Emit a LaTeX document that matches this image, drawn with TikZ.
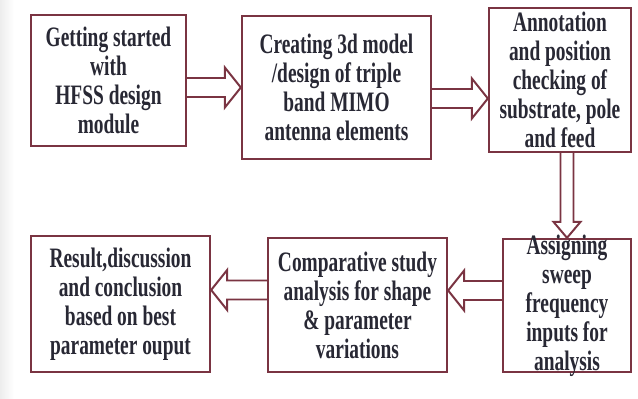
\documentclass[tikz,border=0pt]{standalone}
\usepackage{fontspec}
\setmainfont{Liberation Serif}[FakeStretch=0.69]
\usetikzlibrary{calc}
\definecolor{flowmaroon}{RGB}{122, 52, 66}
\definecolor{flowtext}{RGB}{40, 40, 52}

\begin{document}
\begin{tikzpicture}[x=0.025cm, y=-0.025cm,
    box/.style={rectangle, draw=flowmaroon, fill=white, line width=1.6pt, align=center, inner sep=0pt, text=flowtext, font=\fontsize{20}{20.6}\selectfont\bfseries},
    txt/.style={align=center, inner sep=0pt, text=flowtext, font=\fontsize{20}{20.6}\selectfont\bfseries},
    blockarrow/.style args={#1/#2}{draw=flowmaroon, line width=1.4pt, to path={
        let \p1=($(\tikztotarget)-(\tikztostart)$), \n1={atan2(\y1,\x1)}, \n2={veclen(\x1,\y1)} in
        ($(\tikztostart)+(\n1+90:#1)$) -- ($(\tikztostart)+(\n1:\n2-0.4cm)+(\n1+90:#1)$)
        -- ($(\tikztostart)+(\n1:\n2-0.4cm)+(\n1+90:#2)$) -- (\tikztotarget)
        -- ($(\tikztostart)+(\n1:\n2-0.4cm)+(\n1-90:#2)$) -- ($(\tikztostart)+(\n1:\n2-0.4cm)+(\n1-90:#1)$)
        -- ($(\tikztostart)+(\n1-90:#1)$)}}
]
    \useasboundingbox (0,0) rectangle (638,399);
    \shade[left color=gray!14, right color=white] (0,0) rectangle (14,399);

    \node[box, minimum width=3.875cm, minimum height=3.275cm] (b1) at (108.5, 80.5) {Getting started\\with\\HFSS design\\module};
    \node[box, minimum width=4.725cm, minimum height=3.575cm] (b2) at (336.5, 87.5) {Creating 3d model\\/design of triple\\band MIMO\\antenna elements};
    \node[box, minimum width=3.55cm, minimum height=3.6cm] (b3) at (560, 80) {Annotation\\and position\\checking of\\substrate, pole\\and feed};
    \node[box, minimum width=3.2cm, minimum height=3.325cm] (b4) at (567, 305.5) {};
    \node[txt] (t4) at (b4.center) {Assigning\\sweep\\frequency\\inputs for\\analysis};
    \node[box, minimum width=4.475cm, minimum height=3.35cm] (b5) at (357.5, 305) {Comparative study\\analysis for shape\\\& parameter\\variations};
    \node[box, minimum width=4.475cm, minimum height=3.4cm] (b6) at (120.5, 304) {Result,discussion\\and conclusion\\based on best\\parameter ouput};

    \coordinate (a2) at ($(b2.east)+(0,11)$);
    \coordinate (a4) at ($(b4.west)+(0,-15)$);
    \coordinate (a5) at ($(b5.west)+(0,-15)$);

    \draw[blockarrow=0.2375cm/0.5cm] (b1.east |- b2.west) to (b2.west);
    \draw[blockarrow=0.2375cm/0.5cm] (a2) to (a2 -| b3.west);
    \draw[blockarrow=0.1625cm/0.3375cm] (b3.south -| b4.north) to (b4.north);
    \draw[blockarrow=0.2375cm/0.5cm] (a4) to (a4 -| b5.east);
    \draw[blockarrow=0.2375cm/0.5cm] (a5) to (a5 -| b6.east);
\end{tikzpicture}
\end{document}
